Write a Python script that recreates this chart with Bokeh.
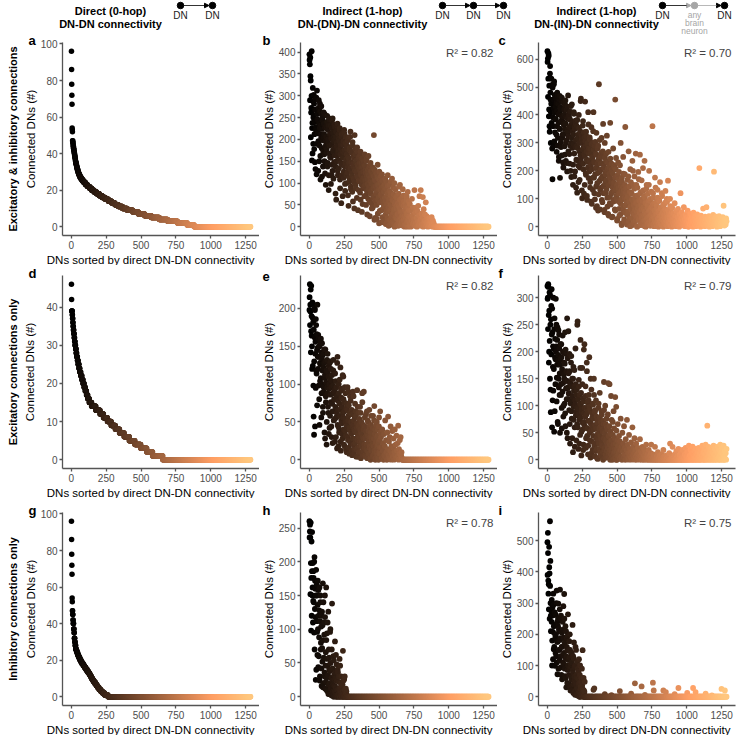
import numpy as np
from bokeh.plotting import figure
from bokeh.models import ColumnDataSource, Range1d, FixedTicker, Title, Label, Arrow, NormalHead
from bokeh.layouts import column, row
from bokeh.transform import linear_cmap
from bokeh.embed import file_html
from bokeh.resources import INLINE
from bokeh.core.properties import value

# ---------------- data ----------------
N_DN = 1285          # number of DNs (ranks 1..N_DN)
RANK_STEP = 3        # scatter panels: series *_y hold DN ranks 1, 4, 7, ... (remaining ranks are 0);
                     # series *_y2 hold DN ranks 2, 5, 8, ... of the denser part

x_ticks = [0, 250, 500, 750, 1000, 1250]

# column 1: direct connectivity, sorted -> run lengths (value, number of DNs)
a_values = [96, 86, 78, 72, 67, 54, 53, 52, 47, 46, 45, 44, 43, 42, 41, 40, 39, 38, 37, 36, 35, 34, 33, 32, 31, 30,
            29, 28, 27, 26, 25, 24, 23, 22, 21, 20, 19, 18, 17, 16, 15, 14, 13, 12, 11, 10, 9, 8, 7, 6, 5, 4, 3, 2, 1, 0]
a_counts = [1, 1, 1, 1, 1, 1, 1, 1, 2, 2, 1, 2, 2, 2, 2, 2, 2, 2, 2, 2, 3, 3, 3, 3, 4, 4,
            5, 6, 8, 9, 11, 12, 13, 15, 15, 17, 18, 20, 20, 22, 23, 24, 23, 24, 30, 34, 40, 40, 45, 47, 58, 60, 70, 70, 50, 405]
d_values = [46, 42, 39, 38, 37, 36, 35, 34, 33, 32, 31, 30, 29, 28, 27, 26, 25, 24, 23, 22, 21, 20,
            19, 18, 17, 16, 15, 14, 13, 12, 11, 10, 9, 8, 7, 6, 5, 4, 3, 2, 1, 0]
d_counts = [1, 1, 4, 2, 2, 2, 2, 3, 3, 3, 3, 4, 4, 4, 5, 5, 6, 6, 7, 8, 8, 8,
            8, 9, 9, 11, 17, 30, 30, 25, 28, 27, 30, 30, 33, 37, 40, 42, 43, 42, 73, 630]
g_values = [96, 86, 78, 72, 67, 54, 52, 47, 45, 42, 40, 37, 35, 32, 30, 28, 26, 25, 24, 23, 22, 21, 20,
            19, 18, 17, 16, 15, 14, 13, 12, 11, 10, 9, 8, 7, 6, 5, 4, 3, 2, 1, 0]
g_counts = [1, 1, 1, 1, 1, 1, 1, 2, 2, 2, 3, 3, 2, 3, 3, 4, 5, 4, 5, 5, 6, 6, 7,
            7, 9, 9, 9, 9, 9, 9, 7, 7, 8, 8, 10, 9, 9, 10, 12, 12, 16, 24, 1023]

# column 2: indirect via DNs
b_y = [395, 372, 388, 335, 262, 300, 152, 238, 318, 190,
       255, 282, 212, 148, 292, 228, 268, 120, 312, 246,
       218, 128, 272, 236, 186, 282, 162, 232, 204, 258,
       115, 244, 198, 172, 262, 212, 150, 228, 184, 96,
       206, 178, 240, 138, 222, 192, 84, 248, 168, 212,
       232, 158, 202, 118, 244, 128, 216, 172, 196, 148,
       182, 228, 138, 206, 62, 192, 162, 236, 118, 176,
       202, 152, 222, 108, 166, 188, 54, 212, 142, 172,
       158, 196, 126, 222, 176, 98, 146, 206, 118, 166,
       186, 136, 72, 204, 156, 112, 180, 132, 218, 92,
       148, 172, 116, 194, 58, 138, 162, 102, 210, 128,
       166, 88, 152, 116, 182, 142, 38, 156, 106, 132,
       146, 78, 172, 122, 136, 96, 156, 52, 126, 112,
       142, 92, 166, 106, 130, 72, 152, 116, 28, 98,
       122, 162, 86, 136, 58, 112, 146, 82, 126, 42,
       102, 136, 66, 116, 210, 92, 130, 20, 106, 76,
       122, 18, 96, 142, 62, 110, 86, 126, 36, 100,
       72, 116, 10, 90, 106, 56, 40, 82, 48, 96,
       66, 110, 28, 86, 8, 52, 76, 118, 14, 34,
       58, 82, 4, 38, 72, 104, 24, 46, 62, 12,
       90, 32, 6, 100, 52, 22, 2, 68, 42, 18,
       72, 28, 8, 48, 92, 14, 62, 36, 4, 20,
       52, 10, 34, 86, 2, 16, 58, 24, 6, 40,
       46, 4, 62, 28, 12, 80, 18, 2, 38, 8,
       52, 22, 0, 38, 14, 64, 26, 6, 44, 10,
       18, 84, 2, 32, 8, 44, 20, 0, 36, 12,
       48, 4, 26, 70, 10, 16, 84, 2, 30, 6,
       22, 68, 0, 40, 8, 14, 28, 2, 56, 10,
       24, 6, 18, 0, 12, 4, 20, 8, 2, 16,
       10, 2, 22, 6, 0, 14, 4, 8, 0, 2]
b_y2 = [382, 290, 345, 205, 272, 402, 226, 168, 288, 250,
        302, 178, 240, 268, 132, 222, 296, 190, 258, 214,
        244, 196, 290, 150, 226, 264, 108, 212, 276, 180,
        224, 252, 138, 204, 236, 166, 258, 122, 196, 230,
        170, 226, 254, 146, 200, 232, 118, 186, 244, 160,
        214, 98, 188, 226, 142, 248, 176, 110, 206, 234,
        164, 200, 76, 218, 150, 184, 230, 128, 170, 212,
        134, 196, 226, 88, 180, 146, 206, 118, 164, 70,
        188, 112, 170, 214, 138, 82, 192, 154, 100, 178,
        124, 198, 160, 48, 146, 176, 104, 206, 134, 86,
        170, 122, 80, 186, 144, 110, 158, 42, 132, 178,
        96, 148, 126, 66, 172, 114, 138, 84, 160, 104,
        130, 164, 62, 118, 146, 34, 106, 136, 88, 150,
        112, 70, 140, 96, 124, 50, 156, 82, 108, 130,
        64, 118, 92, 140, 24, 104, 76, 128, 54, 98,
        120, 44, 88, 132, 70, 16, 106, 60, 92, 124,
        50, 82, 114, 30, 96, 68, 8, 108, 56, 84,
        100, 38, 74, 120, 22, 64, 92, 12, 80, 46,
        88, 58, 6, 104, 36, 70, 20, 94, 44, 2,
        64, 96, 16, 50, 78, 8, 42, 110, 28, 60,
        10, 74, 40, 0, 56, 86, 22, 48, 4, 66,
        30, 54, 2, 76, 16, 44, 96, 8, 34, 58,
        12, 66, 26, 4, 48, 72, 18, 0, 38, 54,
        20, 6, 70, 32, 0, 44, 14, 58, 24, 2]
e_y = [198, 232, 205, 225, 170, 190, 150, 208, 124, 182,
       57, 33, 162, 198, 140, 95, 178, 114, 145, 205,
       136, 165, 98, 150, 46, 128, 156, 108, 142, 88,
       154, 118, 70, 140, 96, 128, 36, 112, 146, 84,
       102, 20, 132, 88, 116, 62, 124, 94, 42, 106,
       130, 76, 96, 30, 112, 64, 88, 118, 52, 80,
       92, 24, 70, 104, 56, 84, 15, 136, 66, 44,
       100, 36, 74, 58, 122, 12, 82, 48, 92, 28,
       62, 110, 40, 76, 18, 54, 88, 32, 68, 10,
       46, 96, 26, 58, 72, 8, 40, 84, 22, 50,
       34, 66, 6, 44, 90, 20, 52, 14, 38, 74,
       28, 58, 4, 42, 92, 16, 32, 62, 10, 46,
       24, 70, 36, 2, 50, 18, 88, 30, 12, 40,
       90, 20, 44, 6, 28, 60, 14, 34, 2, 52,
       22, 38, 8, 66, 16, 30, 0, 46, 12, 26,
       36, 4, 58, 18, 28, 71, 10, 40, 2, 24,
       14, 50, 6, 32, 20, 0, 44, 10, 26, 64,
       8, 30, 16, 2, 40, 12, 22, 0, 34, 6,
       18, 52, 4, 26, 10, 0, 36, 14, 57, 6,
       24, 2, 30, 12, 44, 0, 18, 8, 38, 4,
       16, 28, 0, 10, 40, 6, 20, 2, 32, 12,
       4, 22, 45, 0, 14, 8, 26, 2, 30, 6,
       10, 2]
e_y2 = [215, 178, 196, 142, 230, 164, 120, 188, 206, 98,
        172, 130, 200, 44, 156, 186, 118, 166, 72, 148,
        120, 160, 136, 80, 150, 104, 126, 160, 56, 134,
        100, 138, 62, 122, 90, 146, 108, 28, 130, 76,
        118, 50, 96, 140, 70, 110, 34, 100, 128, 58,
        86, 120, 44, 104, 74, 22, 98, 132, 64, 90,
        54, 114, 80, 30, 96, 62, 128, 46, 78, 18,
        88, 40, 106, 66, 24, 94, 52, 70, 34, 112,
        56, 80, 20, 64, 96, 38, 50, 14, 74, 44,
        66, 30, 52, 90, 16, 42, 62, 24, 78, 36,
        50, 12, 60, 28, 46, 84, 8, 40, 56, 22,
        64, 36, 14, 48, 26, 70, 4, 44, 30, 54,
        18, 40, 62, 10, 34, 24, 76, 6, 46, 28,
        42, 16, 56, 30, 4, 38, 20, 64, 12, 32,
        50, 8, 26, 44, 18, 2, 36, 58, 14, 30,
        20, 42, 6, 28, 52, 12, 34, 0, 22, 46,
        10, 30, 18, 40, 2, 24, 56, 8, 16, 36]
h_y = [260, 245, 236, 258, 98, 230, 186, 150, 198, 142,
       176, 95, 207, 130, 160, 25, 188, 112, 150, 62,
       172, 44, 120, 88, 162, 30, 140, 70, 104, 16,
       126, 52, 168, 84, 20, 110, 36, 150, 12, 66,
       162, 28, 94, 8, 46, 126, 18, 58, 4, 38,
       100, 14, 40, 2, 138, 24, 8, 60, 0, 32,
       16, 82, 6, 28, 0, 48, 10, 2, 36, 4,
       22, 0, 56, 8, 14, 2, 30, 0, 6, 18,
       68, 4, 0, 26, 10, 2, 0, 12, 4, 0]
h_y2 = [236, 255, 152, 198, 176, 120, 244, 162, 110, 186,
        140, 200, 70, 172, 118, 150, 40, 166, 96, 136,
        100, 158, 60, 128, 24, 112, 150, 80, 42, 120,
        72, 106, 14, 140, 58, 92, 30, 118, 46, 22,
        84, 10, 56, 110, 32, 4, 70, 40, 20, 96,
        50, 12, 28, 70, 6, 42, 18, 2, 54, 26,
        8, 36, 14, 62, 2, 24, 0, 40, 10, 4,
        30, 12, 0, 46, 6, 20, 2, 16, 0, 8,
        4, 24, 0, 10, 30, 2, 6, 0, 8, 2]

# column 3: indirect via any brain neuron
c_y = [628, 602, 530, 612, 420, 360, 548, 480, 300, 440,
       372, 508, 170, 392, 455, 290, 520, 410, 338, 468,
       385, 442, 268, 360, 470, 318, 402, 236, 455, 350,
       175, 428, 302, 380, 255, 448, 330, 395, 212, 366,
       420, 288, 350, 452, 236, 392, 310, 198, 430, 340,
       270, 402, 356, 226, 384, 290, 432, 178, 318, 372,
       340, 150, 296, 410, 262, 356, 198, 380, 310, 240,
       360, 122, 282, 330, 218, 400, 300, 168, 342, 256,
       458, 230, 312, 102, 276, 378, 206, 338, 260, 150,
       448, 288, 186, 324, 240, 96, 300, 212, 366, 262,
       198, 320, 140, 278, 222, 356, 82, 250, 300, 176,
       410, 232, 120, 290, 188, 262, 68, 336, 214, 156,
       280, 58, 242, 510, 196, 310, 132, 226, 172, 264,
       96, 250, 180, 368, 146, 218, 60, 300, 192, 122,
       236, 166, 326, 104, 208, 46, 268, 148, 190, 84,
       372, 172, 118, 226, 34, 196, 140, 280, 90, 158,
       212, 62, 455, 134, 246, 100, 178, 28, 152, 230,
       118, 196, 40, 162, 84, 300, 128, 12, 176, 98,
       142, 250, 58, 120, 18, 188, 357, 76, 136, 100,
       8, 168, 112, 56, 270, 92, 144, 30, 206, 70,
       122, 4, 98, 236, 48, 150, 82, 16, 180, 60,
       110, 262, 36, 88, 2, 140, 66, 196, 24, 96,
       52, 258, 120, 10, 78, 166, 40, 92, 6, 130,
       64, 22, 236, 104, 46, 0, 84, 150, 30, 70,
       118, 14, 56, 200, 38, 92, 4, 66, 126, 20,
       48, 360, 80, 8, 104, 32, 58, 176, 16, 42,
       86, 2, 64, 132, 26, 50, 12, 96, 36, 160,
       20, 70, 6, 44, 110, 28, 54, 0, 80, 34,
       14, 62, 128, 24, 46, 4, 90, 30, 165, 10,
       52, 18, 36, 100, 6, 42, 22, 0, 68, 28,
       12, 48, 4, 30, 84, 16, 38, 2, 56, 20,
       8, 34, 64, 14, 26, 0, 44, 18, 120, 6,
       30, 52, 10, 22, 38, 4, 70, 16, 26, 2,
       42, 12, 20, 34, 6, 58, 24, 0, 14, 30,
       8, 46, 18, 28, 4, 36, 12, 22, 0, 50,
       16, 26, 6, 38, 20, 2, 30, 10, 44, 14,
       24, 4, 34, 210, 12, 18, 0, 40, 8, 28,
       16, 32, 65, 6, 22, 14, 2, 36, 26, 10,
       70, 18, 4, 30, 12, 24, 38, 0, 16, 28,
       8, 20, 34, 14, 2, 26, 42, 10, 197, 18,
       30, 6, 22, 36, 12, 0, 28, 16, 4, 24,
       38, 10, 20, 2, 32, 14, 26, 6, 18, 34,
       12, 75, 22, 4, 28, 16, 8, 30, 20]
c_y2 = [590, 465, 620, 395, 505, 340, 575, 455, 410, 530,
        445, 280, 498, 360, 425, 510, 305, 472, 385, 430,
        460, 330, 415, 480, 290, 440, 372, 250, 406, 468,
        350, 420, 285, 398, 462, 318, 376, 230, 445, 332,
        402, 258, 436, 370, 300, 418, 228, 388, 346, 470,
        324, 395, 260, 356, 412, 200, 364, 300, 438, 282,
        376, 222, 330, 404, 180, 350, 286, 368, 140, 312,
        290, 382, 236, 316, 160, 354, 270, 212, 334, 450,
        246, 326, 130, 300, 362, 226, 284, 118, 320, 254,
        306, 192, 340, 270, 110, 294, 232, 410, 174, 280,
        236, 312, 160, 262, 90, 296, 206, 248, 132, 342,
        276, 176, 230, 98, 304, 210, 144, 258, 74, 226,
        192, 290, 116, 238, 164, 62, 252, 204, 140, 318,
        228, 88, 270, 174, 120, 210, 52, 248, 156, 186,
        262, 134, 198, 72, 230, 150, 40, 214, 176, 106,
        244, 80, 160, 204, 124, 36, 190, 142, 96, 220,
        128, 176, 58, 206, 110, 150, 22, 184, 92, 138,
        170, 64, 120, 220, 44, 146, 98, 6, 160, 112,
        76, 190, 130, 26, 104, 150, 50, 122, 14, 86,
        140, 42, 106, 180, 20, 90, 124, 2, 72, 160,
        60, 118, 32, 94, 200, 12, 76, 136, 44, 100,
        22, 84, 150, 54, 0, 112, 38, 74, 170, 28,
        92, 48, 6, 124, 62, 30, 100, 16, 210, 70,
        40, 110, 2, 56, 86, 24, 136, 48, 10, 78,
        34, 92, 150, 18, 60, 4, 100, 42, 70, 26,
        8, 66, 120, 36, 2, 84, 22, 54, 140, 12,
        46, 74, 16, 104, 30, 0, 58, 92, 20, 40,
        64, 10, 36, 120, 26, 50, 4, 76, 18, 42,
        28, 86, 8, 56, 20, 100, 34, 2, 60, 16,
        44, 12, 30, 74, 4, 24, 50, 8, 36, 18]
f_y = [322, 300, 325, 268, 200, 310, 150, 250, 88, 285,
       316, 60, 236, 172, 128, 205, 52, 262, 190, 140,
       298, 210, 108, 176, 245, 66, 194, 150, 232, 120,
       50, 186, 140, 214, 96, 168, 126, 200, 80, 158,
       180, 104, 236, 62, 146, 196, 112, 262, 40, 134,
       238, 122, 92, 164, 30, 140, 108, 192, 76, 150,
       118, 14, 172, 98, 136, 60, 110, 206, 82, 36,
       130, 66, 256, 94, 20, 148, 74, 120, 46, 222,
       102, 8, 88, 170, 56, 114, 28, 204, 70, 96,
       60, 136, 22, 84, 180, 44, 106, 10, 72, 120,
       190, 50, 92, 4, 66, 130, 34, 78, 18, 102,
       56, 150, 26, 88, 6, 64, 110, 40, 20, 74,
       48, 2, 96, 30, 58, 124, 14, 70, 38, 8,
       84, 26, 52, 0, 66, 144, 18, 42, 100, 10,
       34, 76, 4, 56, 22, 142, 44, 12, 62, 28,
       0, 48, 118, 16, 36, 6, 70, 24, 90, 2,
       40, 14, 116, 30, 0, 54, 20, 8, 66, 26,
       12, 44, 2, 34, 18, 76, 6, 24, 0, 50,
       16, 30, 4, 62, 10, 22, 0, 38, 8, 18,
       74, 2, 28, 12, 0, 46, 6, 20, 14, 4,
       32, 0, 16, 60, 8, 24, 2, 12, 40, 0,
       18, 6, 30, 0, 10, 4, 22, 2, 14, 8,
       0, 38, 6, 16, 2, 0, 12, 24, 4, 0,
       8, 20, 0, 4, 14, 2, 28, 0, 6, 10,
       0, 4, 18, 0, 2, 8, 0, 12, 28, 0,
       4, 0, 2, 10, 0, 6, 0, 24, 2, 0,
       0, 6, 0, 2, 14, 0, 4, 0, 8, 0,
       2, 0, 10, 0, 4, 0, 0, 18, 0, 6,
       0, 2, 0, 0, 8, 0, 4, 0, 0, 2,
       0, 12, 0, 30, 0, 2, 0, 6, 0, 24,
       0, 4, 0, 0, 10, 0, 2, 0, 16, 0,
       6, 0, 0, 20, 2, 0, 8, 0, 0, 12,
       0, 4, 0, 18, 0, 2, 0, 0, 10, 0,
       22, 0, 6, 0, 14, 0, 0, 4, 26, 0,
       8, 0, 18, 2, 0, 12, 0, 24, 0, 6,
       0, 16, 0, 4, 20, 0, 10, 0, 2, 14,
       0, 22, 6, 0, 12, 0, 18, 2, 0, 8,
       26, 0, 4, 14, 0, 20, 0, 10, 28, 2,
       0, 16, 63, 0, 6, 24, 0, 12, 2, 18,
       0, 8, 22, 0, 14, 4, 0, 26, 10, 0,
       20, 2, 0, 16, 6, 0, 12, 24, 0, 4,
       18, 0, 8, 28, 0, 14, 2, 22, 0, 10,
       0, 26, 6, 0, 16, 2, 12, 0, 20]
f_y2 = [298, 242, 320, 180, 276, 220, 305, 130, 260, 195,
        232, 280, 110, 210, 300, 168, 242, 90, 224, 186,
        200, 250, 152, 222, 70, 184, 240, 134, 206, 160,
        176, 214, 120, 190, 58, 162, 230, 142, 100, 198,
        150, 178, 86, 204, 132, 164, 50, 146, 188, 112,
        160, 124, 196, 66, 142, 104, 180, 90, 136, 40,
        116, 150, 74, 128, 166, 24, 102, 140, 88, 120,
        96, 250, 60, 112, 84, 136, 30, 104, 170, 78,
        124, 52, 94, 140, 68, 18, 108, 86, 214, 62,
        80, 118, 40, 96, 164, 58, 90, 26, 110, 72,
        98, 36, 70, 150, 54, 12, 86, 62, 104, 44,
        76, 120, 30, 64, 92, 16, 58, 80, 40, 2,
        68, 36, 104, 50, 20, 78, 44, 8, 62, 90,
        30, 56, 14, 72, 40, 92, 22, 50, 4, 66,
        38, 16, 60, 26, 84, 6, 44, 32, 140, 18,
        52, 10, 36, 74, 22, 0, 46, 28, 12, 58,
        20, 40, 4, 30, 98, 14, 0, 36, 24, 8]
i_y = [495, 525, 372, 360, 480, 395, 562, 435, 260, 300,
       240, 100, 286, 208, 330, 152, 270, 230, 99, 190,
       262, 130, 340, 176, 72, 228, 298, 150, 210, 116,
       343, 188, 94, 250, 160, 56, 214, 132, 290, 104,
       329, 170, 66, 226, 122, 30, 188, 148, 86, 264,
       118, 40, 178, 90, 150, 20, 104, 62, 140, 34,
       230, 76, 12, 122, 50, 96, 6, 160, 40, 70,
       28, 112, 4, 58, 82, 16, 44, 0, 100, 24,
       10, 60, 2, 36, 149, 8, 0, 20, 4, 48]
i_y2 = [390, 460, 330, 280, 415, 250, 355, 300, 210, 275,
        310, 180, 260, 120, 295, 226, 160, 270, 200, 140,
        200, 300, 110, 240, 176, 250, 90, 218, 150, 280,
        182, 130, 260, 70, 206, 160, 240, 110, 190, 140,
        250, 90, 176, 60, 210, 128, 160, 44, 196, 100,
        150, 70, 126, 200, 30, 96, 140, 56, 110, 20,
        86, 130, 40, 174, 64, 18, 100, 46, 150, 8,
        60, 26, 90, 4, 42, 120, 14, 70, 0, 32,
        48, 2, 90, 12, 24, 0, 60, 6, 16, 0]
# panel i: the few non-zero DNs beyond rank 270 (rank, value)
i_tail_ranks = [331, 337, 412, 460, 520, 601, 628, 676, 700, 757, 763, 832, 850, 913, 940, 1003, 1045, 1063, 1135, 1180, 1249, 1273]
i_tail_values = [22, 27, 8, 5, 18, 10, 43, 33, 6, 45, 20, 20, 15, 8, 28, 12, 28, 15, 10, 4, 25, 20]

a_ticks = [0, 20, 40, 60, 80, 100]
b_ticks = [0, 50, 100, 150, 200, 250, 300, 350, 400]
c_ticks = [0, 100, 200, 300, 400, 500, 600]
d_ticks = [0, 10, 20, 30, 40]
e_ticks = [0, 50, 100, 150, 200]
f_ticks = [0, 50, 100, 150, 200, 250, 300]
g_ticks = [0, 20, 40, 60, 80, 100]
h_ticks = [0, 50, 100, 150, 200, 250]
i_ticks = [0, 100, 200, 300, 400, 500]

r2_text = {"b": "0.82", "c": "0.70", "e": "0.82", "f": "0.79", "h": "0.78", "i": "0.75"}
row_labels = ["Excitatory & inhibitory connections", "Excitatory connections only", "Inhibitory connections only"]
col_title_1 = ["Direct (0-hop)", "Indirect (1-hop)", "Indirect (1-hop)"]
col_title_2 = ["DN-DN connectivity", "DN-(DN)-DN connectivity", "DN-(IN)-DN connectivity"]
x_label = "DNs sorted by direct DN-DN connectivity"
y_label = "Connected DNs (#)"

# ---------------- style / layout ----------------
FONT = "Liberation Sans"
FW, FH = 197, 193
LB = [62, 38, 38]
RB = [0, 0, 5]
TB = [8, 10, 14]
BB = 30
LETTER_OFF = [-34, -38, -40]
HEAD_H = 34
AXIS_COL = "#555555"

# copper colour map (black -> light orange)
PALETTE = ["#%02x%02x%02x" % (int(round(min(1.0, 1.25 * t) * 255)), int(round(0.7812 * t * 255)),
                              int(round(0.4975 * t * 255))) for t in np.linspace(0, 1, 256)]


def sorted_xy(vals, counts):
    y = np.repeat(vals, counts).astype(float)
    return np.arange(1, len(y) + 1), y


def sampled_xy(vals, vals2=None, tail_ranks=None, tail_vals=None):
    n = (N_DN - 1) // RANK_STEP + 1
    y = np.zeros(n)
    y[:len(vals)] = vals
    if tail_ranks:
        for r, v in zip(tail_ranks, tail_vals):
            y[(r - 1) // RANK_STEP] = v
    x = 1 + RANK_STEP * np.arange(n)
    if vals2:
        x = np.concatenate([x, 2 + RANK_STEP * np.arange(len(vals2))])
        y = np.concatenate([y, np.asarray(vals2, dtype=float)])
        order = np.argsort(x, kind="stable")
        x, y = x[order], y[order]
    return x, y


def panel(xy, yticks, col, rw, letter, size):
    x, y = xy
    ymax = float(np.max(y))
    span = N_DN - 1
    p = figure(frame_width=FW, frame_height=FH,
               min_border_left=LB[col], min_border_right=RB[col],
               min_border_top=TB[rw], min_border_bottom=BB,
               x_range=Range1d(1 - 0.05 * span, N_DN + 0.05 * span),
               y_range=Range1d(-0.05 * ymax, 1.05 * ymax),
               output_backend="svg", toolbar_location=None, tools="")
    p.grid.visible = False
    p.outline_line_color = None
    src = ColumnDataSource(dict(x=x, y=y))
    p.scatter("x", "y", source=src, size=size, line_width=0,
              color=linear_cmap("x", PALETTE, 1, N_DN))
    p.xaxis.ticker = FixedTicker(ticks=x_ticks)
    p.yaxis.ticker = FixedTicker(ticks=yticks)
    p.yaxis.axis_label = y_label
    for ax in (p.xaxis[0], p.yaxis[0]):
        ax.axis_line_color = AXIS_COL
        ax.axis_line_width = 1.3
        ax.major_tick_line_color = AXIS_COL
        ax.major_tick_line_width = 1.3
        ax.major_tick_out = 3
        ax.major_tick_in = 0
        ax.minor_tick_line_color = None
        ax.major_label_text_font = FONT
        ax.major_label_text_font_size = "10px"
        ax.major_label_text_color = "#4d4d4d"
        ax.axis_label_text_font = FONT
        ax.axis_label_text_font_size = "11.5px"
        ax.axis_label_text_font_style = "normal"
        ax.axis_label_text_color = "black"
        ax.major_label_standoff = 2
        ax.axis_label_standoff = 1
    if max(len(str(t)) for t in yticks) < 3:
        p.yaxis[0].axis_label_standoff = 7
    p.add_layout(Title(text=x_label, align="right", offset=5, text_font=FONT, text_font_size="11.5px",
                       text_font_style="normal", text_color="black", standoff=0), "below")
    if col == 0:
        p.add_layout(Title(text=row_labels[rw], align="center", text_font=FONT, text_color="black",
                           text_font_size="11px", text_font_style="bold", standoff=6), "left")
    p.add_layout(Title(text=letter, align="left", offset=LETTER_OFF[col], text_font=FONT,
                       text_font_size="13px", text_font_style="bold", text_color="black",
                       standoff=-10), "above")
    if letter in r2_text:
        p.add_layout(Label(x=FW - 4, y=FH - 10.5, x_units="screen", y_units="screen",
                           text="R\u00b2 = " + r2_text[letter], text_font=FONT, text_font_size="11.5px",
                           text_align="right", text_baseline="middle"))
    return p


SZ1, SZ2 = 5.5, 5.8
pa = panel(sorted_xy(a_values, a_counts), a_ticks, 0, 0, "a", SZ1)
pb = panel(sampled_xy(b_y, b_y2), b_ticks, 1, 0, "b", SZ2)
pc = panel(sampled_xy(c_y, c_y2), c_ticks, 2, 0, "c", SZ2)
pd = panel(sorted_xy(d_values, d_counts), d_ticks, 0, 1, "d", SZ1)
pe = panel(sampled_xy(e_y, e_y2), e_ticks, 1, 1, "e", SZ2)
pf = panel(sampled_xy(f_y, f_y2), f_ticks, 2, 1, "f", SZ2)
pg = panel(sorted_xy(g_values, g_counts), g_ticks, 0, 2, "g", SZ1)
ph = panel(sampled_xy(h_y, h_y2), h_ticks, 1, 2, "h", SZ2)
pi = panel(sampled_xy(i_y, i_y2, i_tail_ranks, i_tail_values), i_ticks, 2, 2, "i", SZ2)

# ---------------- header (column titles + schematics) ----------------
TOTAL_W = sum(LB) + sum(RB) + 3 * FW
hd = figure(width=TOTAL_W, height=HEAD_H, x_range=Range1d(0, TOTAL_W), y_range=Range1d(HEAD_H, 0),
            min_border=0, x_axis_type=None, y_axis_type=None,
            output_backend="svg", toolbar_location=None, tools="")
hd.grid.visible = False
hd.outline_line_color = None

title_x = [110, 362, 596]
node_x = [[180, 212], [442, 473, 503], [662, 694, 724]]
node_lab = [["DN", "DN"], ["DN", "DN", "DN"], ["DN", None, "DN"]]
GREY = "#a6a6a6"
NODE_Y, LAB_Y = 5, 15

hd.text(x=title_x, y=[10] * 3, text=col_title_1, text_font=value(FONT), text_font_size=value("11px"),
        text_font_style="bold", text_align="center", text_baseline="middle", text_color="black")
hd.text(x=title_x, y=[23] * 3, text=col_title_2, text_font=value(FONT), text_font_size=value("11px"),
        text_font_style="bold", text_align="center", text_baseline="middle", text_color="black")

for k in range(3):
    xs = node_x[k]
    cols = ["black"] * len(xs)
    if k == 2:
        cols[1] = GREY
    for j in range(len(xs) - 1):
        hd.add_layout(Arrow(end=NormalHead(size=4.5, fill_color=cols[j + 1], line_color=cols[j + 1]),
                            x_start=xs[j] + 3, y_start=NODE_Y, x_end=xs[j + 1] - 3.5, y_end=NODE_Y,
                            line_color=cols[j], line_width=0.8))
    hd.scatter(x=xs, y=[NODE_Y] * len(xs), size=6.5, color=cols)
    lx = [xx for xx, l in zip(xs, node_lab[k]) if l]
    lt = [l for l in node_lab[k] if l]
    hd.text(x=lx, y=[LAB_Y] * len(lx), text=lt, text_font=value(FONT), text_font_size=value("10px"),
            text_align="center", text_baseline="middle", text_color="#1a1a1a")
    if k == 2:
        hd.text(x=[xs[1]] * 3, y=[14.5, 22.5, 30], text=["any", "brain", "neuron"], text_font=value(FONT),
                text_font_size=value("8.5px"), text_align="center", text_baseline="middle", text_color=GREY)

layout = column(hd, row(pa, pb, pc), row(pd, pe, pf), row(pg, ph, pi))
open("out.html", "w", encoding="utf-8").write(file_html(layout, INLINE))
